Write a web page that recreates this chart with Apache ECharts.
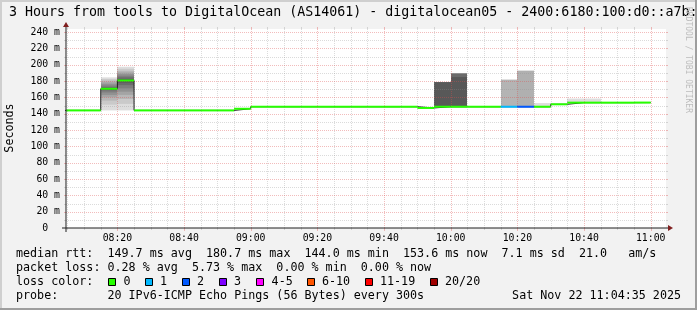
<!DOCTYPE html>
<html><head><meta charset="utf-8">
<script src="https://cdn.jsdelivr.net/npm/echarts@6/dist/echarts.min.js"></script>
<style>html,body{margin:0;padding:0;background:#f2f2f2}#c{width:697px;height:310px}</style>
</head><body><div id="c"></div>
<script>
// ---------------- data ----------------
const titleText = '3 Hours from tools to DigitalOcean (AS14061) - digitalocean05 - 2400:6180:100:d0::a7b:';
const yAxisName = 'Seconds';
const watermark = 'RRDTOOL / TOBI OETIKER';
// x in minutes after 08:00; graph covers 08:04:35 .. 11:04:35
const timeMin = 4 + 35 / 60;
const timeMax = 184 + 35 / 60;
const stepMinutes = 5;
// x tick labels
const xTickMinutes = [20, 40, 60, 80, 100, 120, 140, 160, 180];
const xTickLabels = ['08:20', '08:40', '09:00', '09:20', '09:40', '10:00', '10:20', '10:40', '11:00'];
// y tick labels (ms)
const yTickValues = [0, 20, 40, 60, 80, 100, 120, 140, 160, 180, 200, 220, 240];
const yMax = 243.7;
// start of every 5-minute interval (minutes after 08:00)
const intervalStart = [0,5,10,15,20,25,30,35,40,45,50,55,60,65,70,75,80,85,90,95,100,105,110,115,120,125,130,135,140,145,150,155,160,165,170,175];
// median rtt per interval (ms)
const medianRtt = [144,144,144,170.5,180.7,144,144,144,144,144,144,146,
  148.5,148.5,148.5,148.5,148.5,148.5,148.5,148.5,148.5,148.5,147,
  148.5,148.5,148.5,148.5,148.5,148.5,148.5,151.5,153.5,153.5,153.5,153.5,153.6];
// lost pings (of 20) per interval
const lossCount = [0,0,0,0,0,0,0,0,0,0,0,0,0,0,0,0,0,0,0,0,0,0,0,0,0,0,0,1,2,0,0,0,0,0,0,0];
// smoke: individual ping rtts (ms) for intervals with visible spread
const smokeStart = [15, 20, 115, 120, 135, 140, 145, 155, 160];
const smokePings = [
  [144,151,156,160,163,166,168.5,170,170.5,170.5,170.5,170.5,171,172.5,174.5,176.5,178.5,180.5,182.5,184.5],
  [144,152,158,163,167,171,175,178,180.5,180.7,180.7,181,182.5,184.5,186.5,188.5,190.5,192.5,195,197.5],
  [147.6,147.8,148,148,148.2,148.2,148.3,148.3,148.5,148.5,148.5,148.5,178.5,178.5,178.5,178.5,178.5,178.5,178.5,178.5],
  [147.6,147.8,148,148,148.2,148.2,148.3,148.3,148.5,148.5,148.5,148.5,184.8,189,189,189,189,189,189,189],
  [148.1,148.2,148.3,148.4,148.4,148.5,148.5,148.5,148.5,148.5,148.5,148.5,148.6,148.6,148.7,148.8,181.5,181.5,181.5],
  [148.1,148.2,148.3,148.4,148.4,148.5,148.5,148.5,148.5,148.5,148.5,148.6,148.6,148.7,148.8,192.5,192.5,192.5],
  [148.2,148.3,148.3,148.4,148.4,148.5,148.5,148.5,148.5,148.5,148.5,148.5,148.5,148.6,148.6,148.6,148.7,148.7,148.8,153],
  [153.1,153.2,153.3,153.3,153.4,153.4,153.5,153.5,153.5,153.5,153.5,153.5,153.5,153.6,153.6,153.6,153.7,153.7,153.8,158.5],
  [153.1,153.2,153.3,153.3,153.4,153.4,153.5,153.5,153.5,153.5,153.5,153.5,153.5,153.6,153.6,153.6,153.7,153.7,153.8,158.5]
];
// loss colour legend
const lossLabels = ['0', '1', '2', '3', '4-5', '6-10', '11-19', '20/20'];
const lossUpper = [0, 1, 2, 3, 5, 10, 19, 20];
const lossColors = ['#26ff00', '#00b8ff', '#0059ff', '#7e00ff', '#ff00ff', '#ff5500', '#ff0000', '#a00000'];
// legend text
const statsRtt = 'median rtt:  149.7 ms avg  180.7 ms max  144.0 ms min  153.6 ms now  7.1 ms sd  21.0   am/s';
const statsLoss = 'packet loss: 0.28 % avg  5.73 % max  0.00 % min  0.00 % now';
const lossColorLabel = 'loss color:';
const probeText = 'probe:       20 IPv6-ICMP Echo Pings (56 Bytes) every 300s';
const dateText = 'Sat Nov 22 11:04:35 2025';

// ---------------- drawing ----------------
const FONT = '"DejaVu Sans Mono", monospace';
const GRID_MINOR = 'rgba(143,143,143,0.32)';
const GRID_MAJOR = 'rgba(222,79,79,0.38)';
const AXIS = '#1f1f1f';
const ARROW = '#801f1f';
const PL = 66, PT = 29, PW = 600, PH = 199;

function lossIndex(n) { for (let i = 0; i < lossUpper.length; i++) if (n <= lossUpper[i]) return i; return lossUpper.length - 1; }

// grid line definitions: [value, dir(0=vertical,1=horizontal), major]
const gridData = [];
for (let m = 5; m <= 180; m += 5) gridData.push([m, 0, m % 20 === 0 ? 1 : 0]);
for (let v = 10; v <= 240; v += 10) gridData.push([v, 1, v % 20 === 0 ? 1 : 0]);

const chart = echarts.init(document.getElementById('c'), null, { renderer: 'canvas', width: 697, height: 310 });

function renderSmoke(params, api) {
  const idx = api.value(1);
  const t = api.value(0);
  const p = smokePings[idx].slice().sort((a, b) => a - b);
  const n = p.length, half = n / 2;
  const xa = Math.round(api.coord([t, 0])[0]);
  const xb = Math.round(api.coord([t + stepMinutes, 0])[0]);
  const children = [];
  for (let i = 1; i <= Math.floor(half); i++) {
    const g = Math.floor(190 / half * (half - i)) + 50;
    const lo = p[i - 1], hi = p[n - i];
    const ya = api.coord([t, hi])[1], yb = api.coord([t, lo])[1];
    children.push({ type: 'rect', shape: { x: xa, y: ya, width: xb - xa, height: yb - ya },
      style: { fill: 'rgb(' + g + ',' + g + ',' + g + ')' } });
  }
  return { type: 'group', children };
}

function renderGrid(params, api) {
  const v = api.value(0), dir = api.value(1), major = api.value(2);
  const cs = params.coordSys;
  const col = major ? GRID_MAJOR : GRID_MINOR;
  if (dir === 0) {
    const x = Math.round(api.coord([v, 0])[0]) + 0.5;
    return { type: 'group', children: [
      { type: 'line', shape: { x1: x, y1: cs.y, x2: x, y2: cs.y + cs.height }, style: { stroke: col, lineWidth: 1, lineDash: [1, 1] } },
      { type: 'line', shape: { x1: x, y1: cs.y - 2, x2: x, y2: cs.y }, style: { stroke: col, lineWidth: 1 } },
      { type: 'line', shape: { x1: x, y1: cs.y + cs.height, x2: x, y2: cs.y + cs.height + (major ? 3 : 2) }, style: { stroke: col, lineWidth: 1 } }
    ] };
  }
  const y = Math.round(api.coord([timeMin, v])[1]) + 0.5;
  return { type: 'group', children: [
    { type: 'line', shape: { x1: cs.x, y1: y, x2: cs.x + cs.width, y2: y }, style: { stroke: col, lineWidth: 1, lineDash: [1, 1] } },
    { type: 'line', shape: { x1: cs.x - 2, y1: y, x2: cs.x, y2: y }, style: { stroke: col, lineWidth: 1 } },
    { type: 'line', shape: { x1: cs.x + cs.width, y1: y, x2: cs.x + cs.width + 2, y2: y }, style: { stroke: col, lineWidth: 1 } }
  ] };
}

function renderMedian(params, api) {
  const t = api.value(0), v = api.value(1), loss = api.value(2);
  const cs = params.coordSys;
  const a = api.coord([t, v]), b = api.coord([t + stepMinutes, v]);
  const x1 = Math.max(a[0], cs.x), x2 = Math.min(b[0], cs.x + cs.width);
  if (x2 <= x1) return null;
  return { type: 'line', shape: { x1: x1, y1: a[1], x2: x2, y2: a[1] },
    style: { stroke: lossColors[lossIndex(loss)], lineWidth: 2 } };
}

const medianStep = intervalStart.map((t, i) => [t, medianRtt[i]]);
medianStep.push([intervalStart[intervalStart.length - 1] + stepMinutes, medianRtt[medianRtt.length - 1]]);

// graphic elements: frame, title, axes, legend
const graphics = [];
graphics.push({ type: 'rect', shape: { x: 0, y: 0, width: 697, height: 2 }, style: { fill: '#cfcfcf' }, z: 0 });
graphics.push({ type: 'rect', shape: { x: 0, y: 0, width: 2, height: 310 }, style: { fill: '#cfcfcf' }, z: 0 });
graphics.push({ type: 'rect', shape: { x: 695, y: 0, width: 2, height: 310 }, style: { fill: '#9e9e9e' }, z: 0 });
graphics.push({ type: 'rect', shape: { x: 0, y: 308, width: 697, height: 2 }, style: { fill: '#9e9e9e' }, z: 0 });
graphics.push({ type: 'text', x: 9, y: 12.5, style: { text: titleText, font: '13.3px ' + FONT, fill: '#000', verticalAlign: 'middle', align: 'left' }, z: 5 });
graphics.push({ type: 'text', x: 688.5, y: 60, rotation: -Math.PI / 2, style: { text: watermark, font: '8px ' + FONT, fill: '#bdbdbd', align: 'center', verticalAlign: 'middle' }, z: 5 });
graphics.push({ type: 'text', x: 10, y: 128, rotation: Math.PI / 2, style: { text: yAxisName, font: '11.7px ' + FONT, fill: '#000', align: 'center', verticalAlign: 'middle' }, z: 5 });
// axes
graphics.push({ type: 'line', shape: { x1: PL - 4, y1: PT + PH, x2: PL + PW + 4, y2: PT + PH }, style: { stroke: AXIS, lineWidth: 1 }, z: 20 });
graphics.push({ type: 'line', shape: { x1: PL, y1: PT + PH + 4, x2: PL, y2: PT - 4 }, style: { stroke: AXIS, lineWidth: 1 }, z: 20 });
graphics.push({ type: 'polygon', shape: { points: [[PL + PW + 2, PT + PH - 3], [PL + PW + 2, PT + PH + 3], [PL + PW + 7, PT + PH]] }, style: { fill: ARROW }, z: 21 });
graphics.push({ type: 'polygon', shape: { points: [[PL - 3, PT - 2], [PL + 3, PT - 2], [PL, PT - 7]] }, style: { fill: ARROW }, z: 21 });
// legend text
const legFont = '11.7px ' + FONT;
const legX = 16;
graphics.push({ type: 'text', x: legX, y: 254, style: { text: statsRtt, font: legFont, fill: '#000', verticalAlign: 'middle' }, z: 5 });
graphics.push({ type: 'text', x: legX, y: 268, style: { text: statsLoss, font: legFont, fill: '#000', verticalAlign: 'middle' }, z: 5 });
graphics.push({ type: 'text', x: legX, y: 282, style: { text: lossColorLabel, font: legFont, fill: '#000', verticalAlign: 'middle' }, z: 5 });
graphics.push({ type: 'text', x: legX, y: 296, style: { text: probeText, font: legFont, fill: '#000', verticalAlign: 'middle' }, z: 5 });
graphics.push({ type: 'text', x: 681, y: 296, style: { text: dateText, font: legFont, fill: '#000', verticalAlign: 'middle', align: 'right' }, z: 5 });
const boxX = [108.5, 145.5, 182.5, 219.5, 256.5, 307.5, 365.5, 430.5];
const boxLabelX = [123.6, 160, 197, 234, 271.6, 322, 380, 445];
lossLabels.forEach((lab, i) => {
  graphics.push({ type: 'rect', shape: { x: boxX[i], y: 278.5, width: 7, height: 7 }, style: { fill: lossColors[i], stroke: '#000', lineWidth: 1 }, z: 5 });
  graphics.push({ type: 'text', x: boxLabelX[i], y: 282, style: { text: lab, font: legFont, fill: '#000', verticalAlign: 'middle' }, z: 5 });
});

const option = {
  animation: false,
  backgroundColor: '#f2f2f2',
  grid: { left: PL, top: PT, width: PW, height: PH, show: true, backgroundColor: '#ffffff', borderWidth: 0 },
  xAxis: {
    type: 'value', min: timeMin, max: timeMax,
    axisLine: { show: false }, axisTick: { show: false }, splitLine: { show: false },
    axisLabel: {
      customValues: xTickMinutes,
      formatter: function (v) { const i = xTickMinutes.findIndex(m => Math.abs(m - v) < 0.01); return i >= 0 ? xTickLabels[i] : ''; },
      fontFamily: FONT, fontSize: 9.8, color: '#000', margin: 5
    }
  },
  yAxis: {
    type: 'value', min: 0, max: yMax, interval: 20,
    axisLine: { show: false }, axisTick: { show: false }, splitLine: { show: false },
    axisLabel: {
      customValues: yTickValues,
      formatter: function (v) { if (Math.abs(v % 20) > 0.01 || v > 240.5) return ''; return v === 0 ? '0  ' : Math.round(v) + ' m'; },
      fontFamily: FONT, fontSize: 9.8, color: '#000', margin: 6
    }
  },
  graphic: { elements: graphics },
  series: [
    { type: 'custom', name: 'smoke', coordinateSystem: 'cartesian2d', renderItem: renderSmoke, clip: true, silent: true, z: 2,
      data: smokeStart.map((t, i) => [t, i]) },
    { type: 'custom', name: 'grid', coordinateSystem: 'cartesian2d', renderItem: renderGrid, silent: true, z: 3,
      data: gridData },
    { type: 'line', name: 'median', step: 'end', data: medianStep, symbol: 'none', silent: true, z: 4,
      lineStyle: { color: '#202020', width: 1 } },
    { type: 'custom', name: 'medianLoss', coordinateSystem: 'cartesian2d', renderItem: renderMedian, clip: true, silent: true, z: 5,
      data: intervalStart.map((t, i) => [t, medianRtt[i], lossCount[i]]) }
  ]
};
chart.setOption(option);
</script>
</body></html>
